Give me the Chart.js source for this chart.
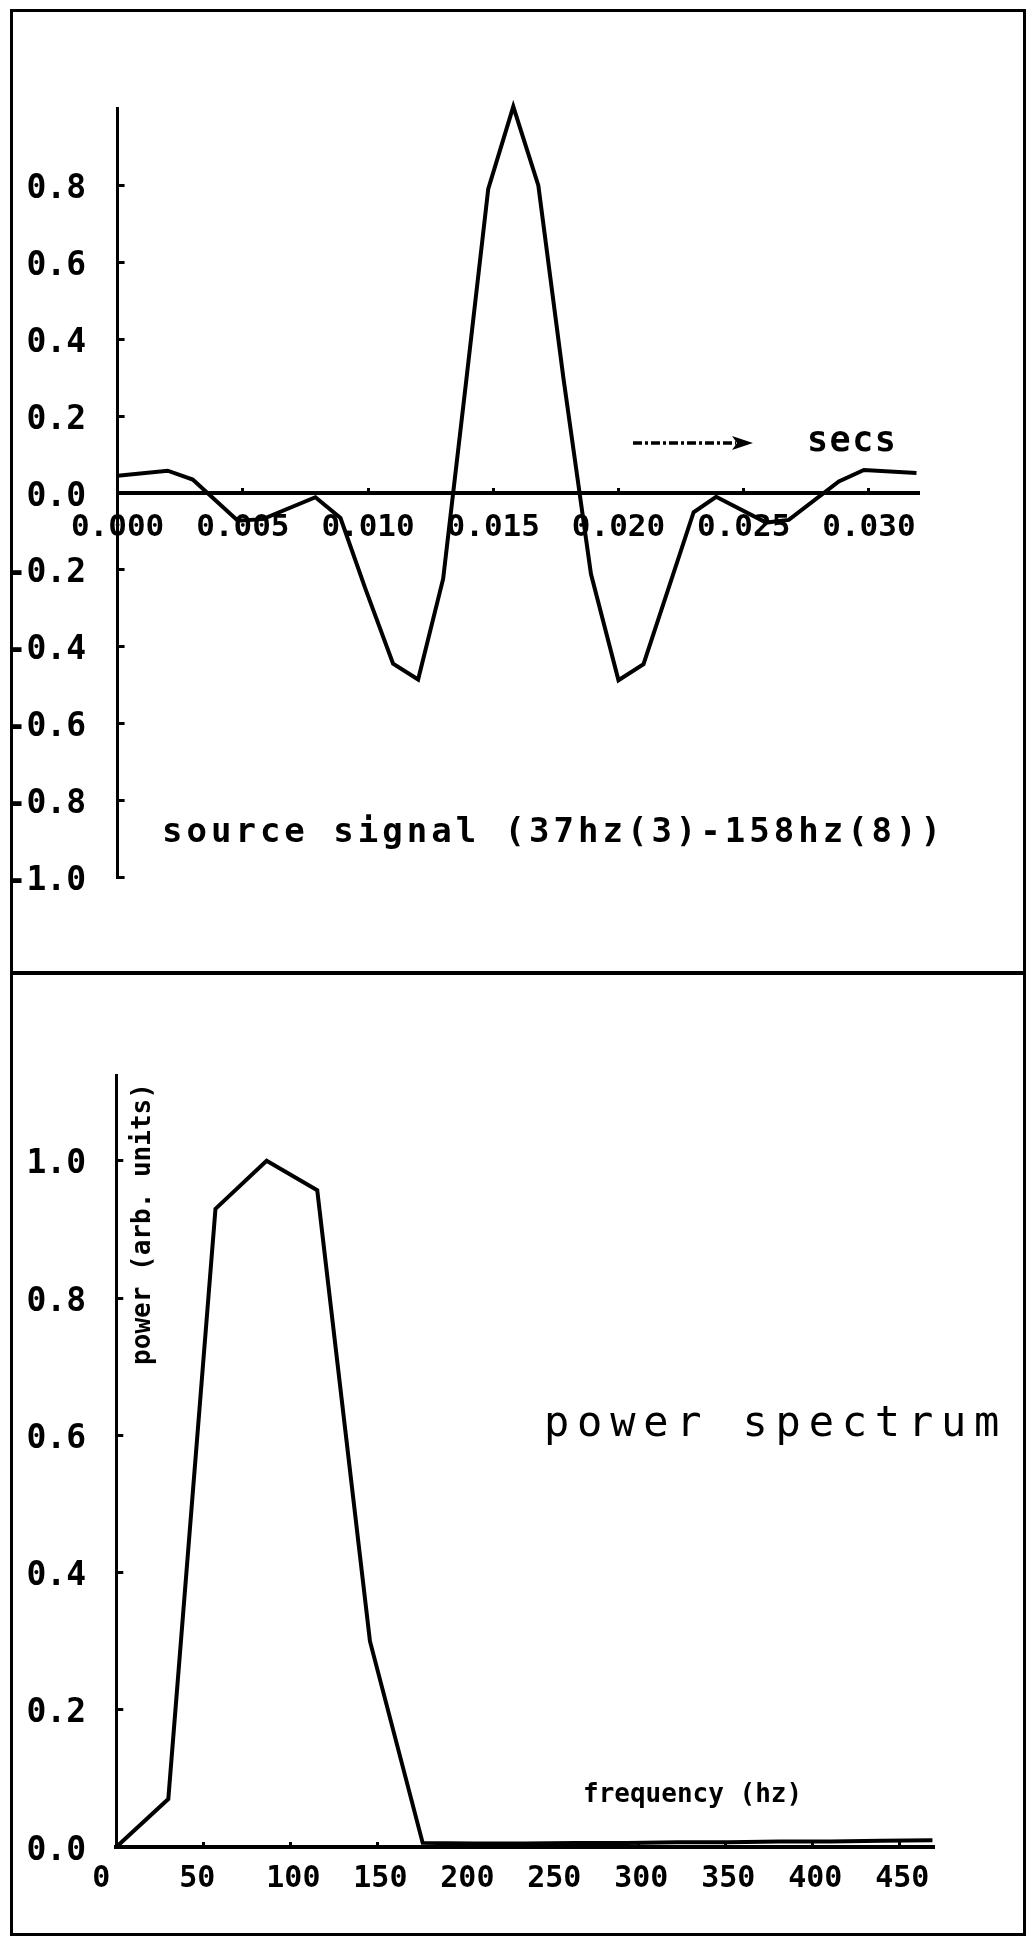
<!DOCTYPE html>
<html>
<head>
<meta charset="utf-8">
<title>source signal / power spectrum</title>
<script src="https://cdn.jsdelivr.net/npm/chart.js@4/dist/chart.umd.min.js"></script>
<style>
  html, body { margin: 0; padding: 0; background: #fff; }
  body { width: 1034px; height: 1938px; position: relative; overflow: hidden;
         font-family: "DejaVu Sans Mono", monospace; color: #000; }
  .frame { position: absolute; left: 10px; top: 9px; width: 1010px; height: 1921px; border: 3px solid #000; }
  .divider { position: absolute; left: 10px; top: 971px; width: 1016px; height: 4px; background: #000; }
  .panel { position: absolute; left: 0; }
  #top-panel { top: 0; }
  #bottom-panel { top: 960px; }
  .note { position: absolute; white-space: nowrap; line-height: 1; font-weight: bold; }
</style>
</head>
<body>
<div class="frame"></div>
<div class="divider"></div>

<div class="panel" id="top-panel"><canvas id="signal-chart" width="1034" height="960"></canvas></div>
<div class="panel" id="bottom-panel"><canvas id="spectrum-chart" width="1034" height="978"></canvas></div>

<div class="note" style="left:162px; top:813px; font-size:34px; letter-spacing:4px;">source signal (37hz(3)-158hz(8))</div>
<svg style="position:absolute; left:630px; top:433px;" width="126" height="20">
  <line x1="3" y1="10" x2="106" y2="10" stroke="#000" stroke-width="3.5" stroke-dasharray="9 3 3 3"></line>
  <polygon points="102,3 123,10 102,17 107,10" fill="#000"></polygon>
</svg>
<div class="note" style="left:807px; top:422px; font-size:35px; letter-spacing:1.5px;">secs</div>

<div class="note" style="left:544px; top:1401px; font-size:42px; letter-spacing:7.8px; font-weight:normal;">power spectrum</div>
<div class="note" style="left:583px; top:1780px; font-size:26px;">frequency (hz)</div>
<div class="note" style="left:-9px; top:1211px; width:300px; text-align:center; font-size:26px;
     transform-origin:150px 13px; transform:rotate(-90deg);">power (arb. units)</div>

<script>
// source signal, seconds vs amplitude
const signalTime = [0.0000, 0.0020, 0.0030, 0.0048, 0.0058, 0.0079, 0.0089, 0.0099, 0.0110, 0.0120,
                    0.0130, 0.0139, 0.0148, 0.0158, 0.0168, 0.0178, 0.0189, 0.0200, 0.0210, 0.0230,
                    0.0239, 0.0259, 0.0268, 0.0288, 0.0298, 0.0319];
const signalAmp = [0.045, 0.058, 0.035, -0.072, -0.068, -0.011, -0.065, -0.25, -0.444, -0.485,
                   -0.223, 0.28, 0.791, 1.005, 0.80, 0.30, -0.21, -0.487, -0.445, -0.05,
                   -0.010, -0.077, -0.07, 0.03, 0.06, 0.052];
const timeTicks = [0, 0.005, 0.010, 0.015, 0.020, 0.025, 0.030];
const ampTicks = [-1.0, -0.8, -0.6, -0.4, -0.2, 0.0, 0.2, 0.4, 0.6, 0.8];

// power spectrum, hz vs power
const freqHz = [0, 29.9, 57.0, 86.4, 115.5, 145.8, 176.1, 205.4, 234.7, 264.0,
                293.3, 322.6, 351.9, 381.2, 410.5, 439.8, 469.1];
const power = [0, 0.07, 0.93, 1.0, 0.957, 0.30, 0.006, 0.005, 0.005, 0.006,
               0.006, 0.007, 0.007, 0.008, 0.008, 0.009, 0.010];
const freqTicks = [0, 50, 100, 150, 200, 250, 300, 350, 400, 450];
const powerTicks = [0.0, 0.2, 0.4, 0.6, 0.8, 1.0];

Chart.defaults.font.family = '"DejaVu Sans Mono", monospace';
Chart.defaults.font.weight = 'bold';
Chart.defaults.color = '#000';

function toPoints(xs, ys) {
    return xs.map((x, i) => ({ x: x, y: ys[i] }));
}

function fixedTicks(list) {
    return function(scale) {
        scale.ticks = list.map(v => ({ value: v }));
    };
}

// y axis box takes the whole left margin so its labels are not clipped
function leftWidth(w) {
    return function(scale) {
        scale.width = w;
    };
}

function lineSet(points) {
    return {
        data: points,
        showLine: true,
        borderColor: '#000',
        borderWidth: 4,
        pointRadius: 0,
        tension: 0,
        clip: false
    };
}

const axisGrid = { drawOnChartArea: false, tickLength: -7, tickWidth: 3, tickColor: '#000' };

new Chart(document.getElementById('signal-chart'), {
    type: 'scatter',
    data: { datasets: [lineSet(toPoints(signalTime, signalAmp))] },
    options: {
        responsive: false,
        animation: false,
        layout: { padding: { left: 0, top: 108.5, right: 115, bottom: 82.5 } },
        plugins: { legend: { display: false }, tooltip: { enabled: false } },
        scales: {
            x: {
                type: 'linear', min: 0, max: 0.032, position: { y: 0 },
                afterBuildTicks: fixedTicks(timeTicks),
                grid: axisGrid,
                border: { color: '#000', width: 4 },
                ticks: { autoSkip: false, maxRotation: 0, padding: 23, font: { size: 31 },
                         callback: v => v.toFixed(3) }
            },
            y: {
                type: 'linear', min: -1, max: 1, position: 'left',
                afterFit: leftWidth(117.6),
                afterBuildTicks: fixedTicks(ampTicks),
                grid: axisGrid,
                border: { color: '#000', width: 3 },
                ticks: { padding: 38.6, labelOffset: 4, font: { size: 33 }, callback: v => v.toFixed(1) }
            }
        }
    }
});

new Chart(document.getElementById('spectrum-chart'), {
    type: 'scatter',
    data: { datasets: [lineSet(toPoints(freqHz, power))] },
    options: {
        responsive: false,
        animation: false,
        layout: { padding: { left: 0, top: 115, right: 100, bottom: 91 } },
        plugins: { legend: { display: false }, tooltip: { enabled: false } },
        scales: {
            x: {
                type: 'linear', min: 0, max: 470, position: { y: 0 },
                afterBuildTicks: fixedTicks(freqTicks),
                grid: axisGrid,
                border: { color: '#000', width: 4 },
                ticks: { autoSkip: false, maxRotation: 0, align: 'start', labelOffset: -24,
                         padding: 21, font: { size: 30 }, callback: v => String(v) }
            },
            y: {
                type: 'linear', min: 0, max: 1.125, position: 'left',
                afterFit: leftWidth(116.3),
                afterBuildTicks: fixedTicks(powerTicks),
                grid: axisGrid,
                border: { color: '#000', width: 3 },
                ticks: { padding: 37.3, labelOffset: 4, font: { size: 33 }, callback: v => v.toFixed(1) }
            }
        }
    }
});
</script>
</body>
</html>
